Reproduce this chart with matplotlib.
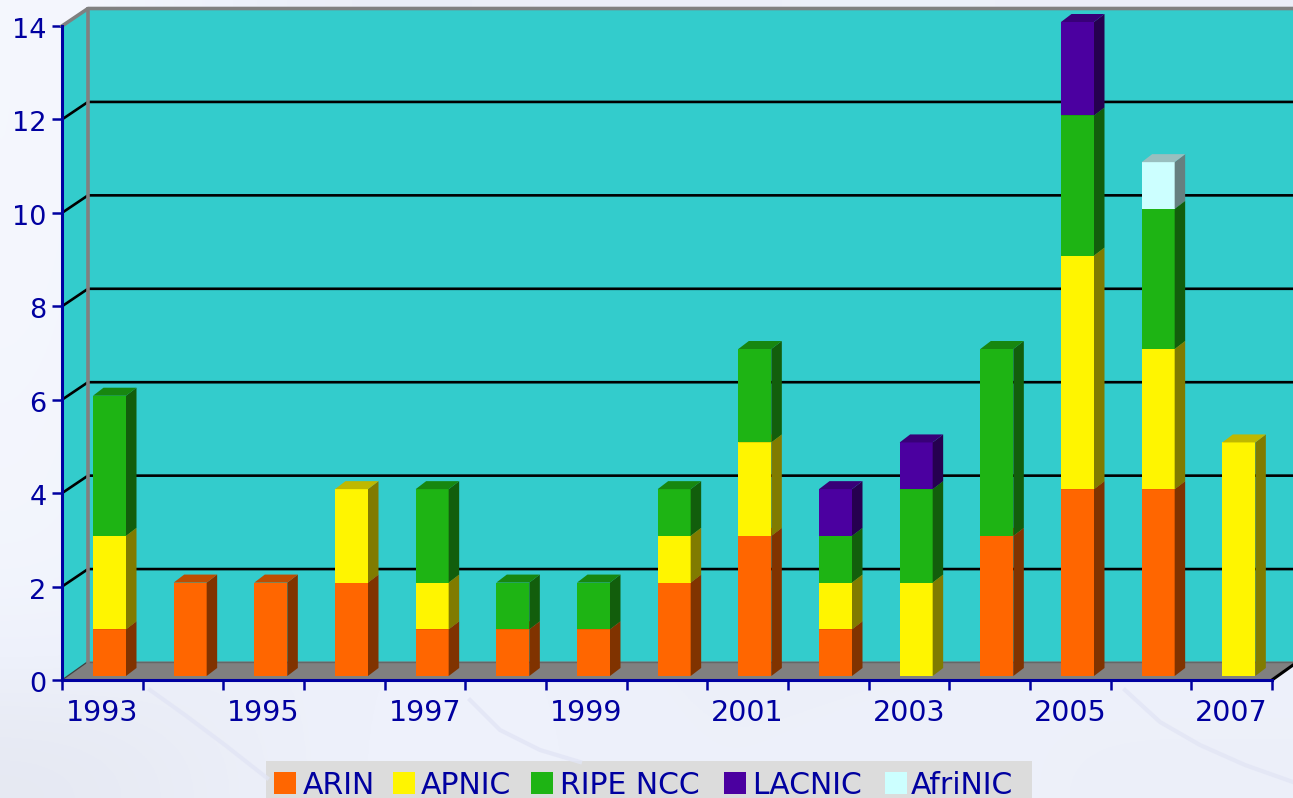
"""Stacked pseudo-3D bars of address registry allocations per year."""

import numpy as np
import matplotlib
matplotlib.use("Agg")
import matplotlib.pyplot as plt
from matplotlib.colors import LinearSegmentedColormap
from matplotlib.patches import Polygon, Rectangle
from matplotlib.transforms import ScaledTranslation

years = list(range(1993, 2008))
arin = [1, 2, 2, 2, 1, 1, 1, 2, 3, 1, 0, 3, 4, 4, 0]
apnic = [2, 0, 0, 2, 1, 0, 0, 1, 2, 1, 2, 0, 5, 3, 5]
ripe = [3, 0, 0, 0, 2, 1, 1, 1, 2, 1, 2, 4, 3, 3, 0]
lacnic = [0, 0, 0, 0, 0, 0, 0, 0, 0, 1, 1, 0, 2, 0, 0]
afrinic = [0, 0, 0, 0, 0, 0, 0, 0, 0, 0, 0, 0, 0, 1, 0]

names = ["ARIN", "APNIC", "RIPE NCC", "LACNIC", "AfriNIC"]
series = [arin, apnic, ripe, lacnic, afrinic]
front = ["#FF6600", "#FFF500", "#1EB414", "#4B00A0", "#CCFFFF"]
side = ["#803300", "#807B00", "#125E0C", "#260050", "#668080"]
top = ["#BF4D00", "#BFB800", "#178710", "#380078", "#99BFBF"]

yticks = list(range(0, 15, 2))
BLUE = "#0000A0"
PX_X = 1210 / 15  # pixels per year
PX_Y = 654 / 14  # pixels per unit

fig = plt.figure(figsize=(12.93, 7.98), dpi=100, facecolor="#EEF1FB")
plt.rcParams["font.family"] = ["DejaVu Sans"]

# washed-out background picture and legend live in a pixel-sized overlay
bg = fig.add_axes([0, 0, 1, 1], zorder=0)
shade = np.array([
    [0.95, 0.40, 0.35, 0.40, 0.40, 0.45, 0.40, 0.40],
    [0.95, 0.40, 0.40, 0.40, 0.40, 0.40, 0.40, 0.40],
    [0.90, 0.45, 0.40, 0.40, 0.40, 0.40, 0.40, 0.40],
    [0.85, 0.45, 0.45, 0.40, 0.40, 0.40, 0.40, 0.45],
    [0.80, 0.45, 0.50, 0.50, 0.40, 0.40, 0.50, 0.50],
    [0.15, 0.40, 0.55, 0.50, 0.45, 0.50, 0.45, 0.45],
])
cmap = LinearSegmentedColormap.from_list("wash", ["#E2E5EE", "#EEF1FB", "#F6F8FE"])
bg.imshow(shade, cmap=cmap, vmin=0, vmax=1, interpolation="bicubic", aspect="auto",
          extent=(0, 1293, 798, 0))
bg.set_xlim(0, 1293)
bg.set_ylim(798, 0)
bg.axis("off")
for xs, ys in [
    ([150, 185, 225, 267], [690, 715, 745, 778]),
    ([1125, 1160, 1200, 1245, 1293], [690, 722, 745, 765, 782]),
    ([470, 500, 540, 580], [700, 730, 750, 762]),
]:
    bg.plot(xs, ys, color="#E2E5F5", lw=3, alpha=0.8)

bg.add_patch(Rectangle((266, 761), 766, 37, color="#DCDCDC", lw=0))
swatch_x = [274, 393, 531, 724, 885]
label_x = [303, 421, 560, 752, 911]
for sx, lx, name, col in zip(swatch_x, label_x, names, front):
    bg.add_patch(Rectangle((sx, 772), 22, 22, color=col, lw=0))
    bg.text(lx, 783, name, color=BLUE, fontsize=21.5, va="center_baseline", ha="left")

# main axes sit on the front plane of the box
ax = fig.add_axes([62 / 1293, (798 - 680) / 798, 1210 / 1293, 654 / 798], zorder=1)
ax.patch.set_visible(False)
ax.set_xlim(0, 15)
ax.set_ylim(0, 14)

wall_dx = 26 / PX_X
wall_dy = 17.5 / PX_Y
floor_dy = 18.5 / PX_Y
bar_dx = 10.5 / PX_X
bar_dy = 8 / PX_Y
bar_lift = 4 / PX_Y
bar_w = 33 / PX_X
bar_off = 31 / PX_X


def poly(pts, **kw):
    ax.add_patch(Polygon(pts, closed=True, clip_on=False, lw=0, **kw))


# box walls
right = 15 + wall_dx
poly([(0, 0), (wall_dx, wall_dy), (wall_dx, 14 + wall_dy), (0, 14)], color="#33CCCC", zorder=1)
poly([(wall_dx, wall_dy), (right, wall_dy), (right, 14 + wall_dy), (wall_dx, 14 + wall_dy)],
     color="#33CCCC", zorder=1)
poly([(0, 0), (15, 0), (right, floor_dy), (wall_dx, floor_dy)], color="#808080", zorder=1)

for v in yticks[1:-1]:
    ax.plot([0, wall_dx, right], [v, v + wall_dy, v + wall_dy], color="black", lw=1.9,
            clip_on=False, zorder=2, solid_capstyle="butt")
ax.plot([0, wall_dx], [0, floor_dy], color="#404040", lw=0.9, clip_on=False, zorder=2)
ax.plot([wall_dx, right], [floor_dy, floor_dy], color="#666666", lw=1.0, clip_on=False, zorder=2)
ax.plot([15, right], [0, floor_dy], color="black", lw=2.2, clip_on=False, zorder=2)
ax.plot([0, wall_dx, right], [14, 14 + wall_dy, 14 + wall_dy], color="#808080", lw=2.6,
        clip_on=False, zorder=2)
ax.plot([wall_dx, wall_dx], [floor_dy, 14 + wall_dy], color="#808080", lw=2.6,
        clip_on=False, zorder=2)

# stacked bars with their side and top faces
xpos = np.arange(len(years)) + bar_off
bottoms = np.zeros(len(years)) + bar_lift
for vals, fc, sc, tc in zip(series, front, side, top):
    vals = np.array(vals, dtype=float)
    mask = vals > 0
    ax.bar(xpos[mask], vals[mask], width=bar_w, bottom=bottoms[mask], align="edge",
           color=fc, lw=0, zorder=3, clip_on=False)
    for x, v, b in zip(xpos[mask], vals[mask], bottoms[mask]):
        r = x + bar_w
        poly([(r, b), (r + bar_dx, b + bar_dy), (r + bar_dx, b + v + bar_dy), (r, b + v)],
             color=sc, zorder=3)
        poly([(x, b + v), (r, b + v), (r + bar_dx, b + v + bar_dy), (x + bar_dx, b + v + bar_dy)],
             color=tc, zorder=3)
    bottoms = bottoms + vals

# axes on the front plane
for s in ["top", "right"]:
    ax.spines[s].set_visible(False)
for s in ["left", "bottom"]:
    ax.spines[s].set_color(BLUE)
    ax.spines[s].set_linewidth(2.2)
    ax.spines[s].set_zorder(4)

ax.set_yticks(yticks)
ax.set_yticklabels([str(v) for v in yticks], fontsize=19.5, color=BLUE)
ax.set_xticks(np.arange(16))
ax.set_xticklabels([])
ax.set_xticks(np.arange(len(years)) + 0.5, minor=True)
ax.set_xticklabels([str(y) if i % 2 == 0 else "" for i, y in enumerate(years)], minor=True,
                   fontsize=20.5, color=BLUE)
ax.tick_params(axis="both", which="major", length=7.2, width=1.8, color=BLUE)
ax.tick_params(axis="y", pad=4)
ax.tick_params(axis="x", which="minor", length=0, pad=14)

# the value labels sit a little below their ticks
nudge = ScaledTranslation(0, -2 / 100, fig.dpi_scale_trans)
for lab in ax.get_yticklabels():
    lab.set_transform(lab.get_transform() + nudge)

fig.savefig("out.png", dpi=100, facecolor=fig.get_facecolor())
